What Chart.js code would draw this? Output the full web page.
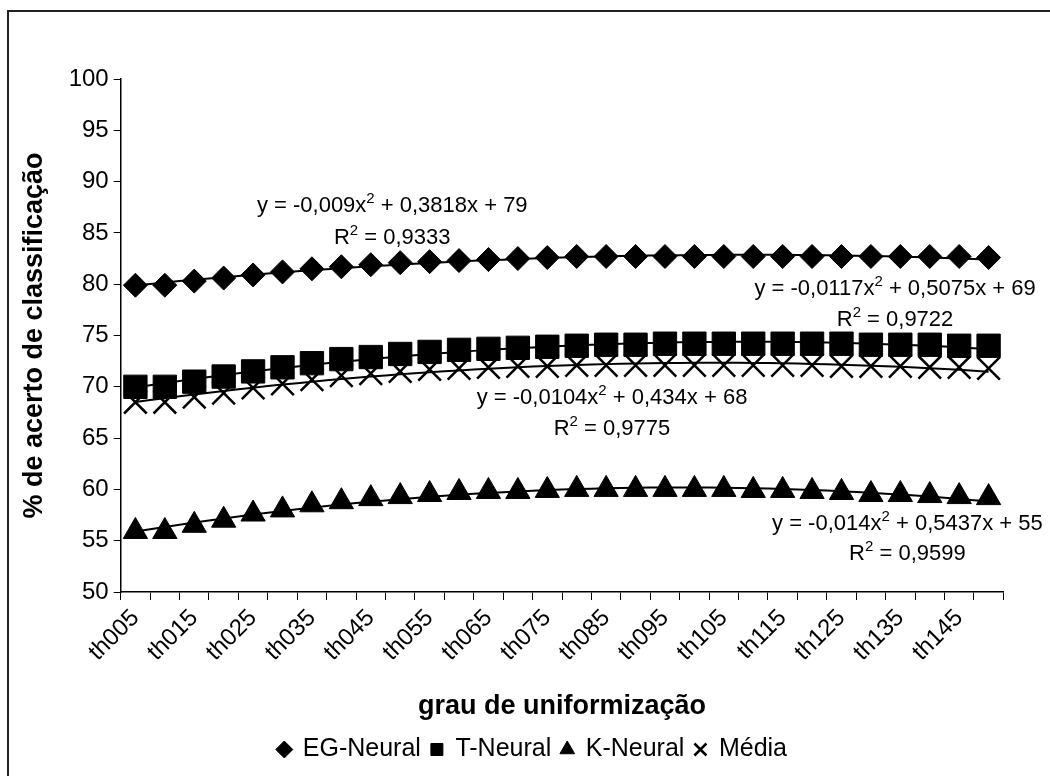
<!DOCTYPE html>
<html><head><meta charset="utf-8">
<script src="https://cdn.jsdelivr.net/npm/chart.js@4.4.1/dist/chart.umd.min.js"></script>
<style>
html,body{margin:0;padding:0;background:#fff;overflow:hidden}
#wrap{position:relative;width:1050px;height:776px}
#frame{position:absolute;left:7px;top:10px;width:1100px;height:800px;border:2px solid #222;box-sizing:border-box}
canvas{position:absolute;left:0;top:0}
</style></head><body>
<div id="wrap"><div id="frame"></div><canvas id="c" width="1050" height="776"></canvas></div>
<script>
const categories = ['th005','th010','th015','th020','th025','th030','th035','th040','th045','th050',
  'th055','th060','th065','th070','th075','th080','th085','th090','th095','th100',
  'th105','th110','th115','th120','th125','th130','th135','th140','th145','th150'];
const egNeural = [79.9, 79.9, 80.3, 80.6, 80.9, 81.2, 81.5, 81.7, 81.9, 82.1, 82.2, 82.3, 82.4, 82.5, 82.6,
  82.7, 82.7, 82.7, 82.7, 82.7, 82.7, 82.7, 82.7, 82.7, 82.7, 82.7, 82.7, 82.7, 82.7, 82.6];
const tNeural = [70.0, 70.0, 70.5, 71.0, 71.5, 71.9, 72.3, 72.7, 72.9, 73.2, 73.4, 73.6, 73.7, 73.8, 73.9,
  74.0, 74.1, 74.1, 74.2, 74.2, 74.2, 74.2, 74.2, 74.2, 74.2, 74.1, 74.1, 74.1, 74.0, 74.0];
const kNeural = [55.9, 55.9, 56.5, 57.0, 57.6, 58.0, 58.5, 58.8, 59.1, 59.3, 59.5, 59.7, 59.8, 59.8, 59.9,
  60.0, 60.0, 60.0, 60.0, 60.0, 60.0, 59.9, 59.9, 59.8, 59.7, 59.5, 59.5, 59.4, 59.3, 59.2];
const media = [68.5, 68.5, 69.0, 69.4, 69.9, 70.3, 70.7, 71.1, 71.3, 71.5, 71.7, 71.8, 71.9, 72.0, 72.0,
  72.1, 72.1, 72.1, 72.1, 72.1, 72.1, 72.1, 72.1, 72.1, 72.0, 72.0, 72.0, 71.9, 71.9, 71.8];
const seriesNames = ['EG-Neural', 'T-Neural', 'K-Neural', 'Média'];
const yTicks = [50, 55, 60, 65, 70, 75, 80, 85, 90, 95, 100];
const equations = [
  {eq: ['y = -0,009x', '2', ' + 0,3818x + 79'], r2: '0,9333'},
  {eq: ['y = -0,0117x', '2', ' + 0,5075x + 69'], r2: '0,9722'},
  {eq: ['y = -0,0104x', '2', ' + 0,434x + 68'], r2: '0,9775'},
  {eq: ['y = -0,014x', '2', ' + 0,5437x + 55'], r2: '0,9599'}
];
// label anchors (category index, value) for each equation block
const eqAnchors = [
  {i: 8.73, yEq: 87.04, yR2: 83.95},
  {i: 25.82, yEq: 78.9, yR2: 75.88},
  {i: 16.2, yEq: 68.33, yR2: 65.3},
  {i: 26.24, yEq: 56.02, yR2: 53.1}
];

const FONT = "'Liberation Sans', Arial, sans-serif";

function quadFit(ys) {
  let S = [0,0,0,0,0], T = [0,0,0];
  ys.forEach((y, k) => {
    const x = k + 1;
    let p = 1;
    for (let j = 0; j < 5; j++) { S[j] += p; p *= x; }
    T[0] += y; T[1] += y * x; T[2] += y * x * x;
  });
  const M = [[S[4], S[3], S[2], T[2]], [S[3], S[2], S[1], T[1]], [S[2], S[1], S[0], T[0]]];
  for (let c = 0; c < 3; c++) {
    for (let r = c + 1; r < 3; r++) {
      const f = M[r][c] / M[c][c];
      for (let k = c; k < 4; k++) M[r][k] -= f * M[c][k];
    }
  }
  const sol = [0,0,0];
  for (let r = 2; r >= 0; r--) {
    let s = M[r][3];
    for (let k = r + 1; k < 3; k++) s -= M[r][k] * sol[k];
    sol[r] = s / M[r][r];
  }
  return ys.map((_, k) => { const x = k + 1; return sol[0]*x*x + sol[1]*x + sol[2]; });
}

const styles = [
  {pointStyle: 'rectRot', pointRadius: 12, borderWidth: 1},
  {pointStyle: 'rect', pointRadius: 16.5, borderWidth: 1},
  {pointStyle: 'triangle', pointRadius: 14, borderWidth: 1},
  {pointStyle: 'crossRot', pointRadius: 16, borderWidth: 2.5}
];
const seriesData = [egNeural, tNeural, kNeural, media];

const datasets = [];
seriesData.forEach((d, k) => {
  datasets.push({
    label: seriesNames[k], data: d, showLine: false,
    pointStyle: styles[k].pointStyle, pointRadius: styles[k].pointRadius,
    pointHoverRadius: styles[k].pointRadius,
    backgroundColor: '#000', borderColor: '#000', borderWidth: styles[k].borderWidth,
    pointBorderWidth: styles[k].borderWidth, order: 2
  });
});
seriesData.forEach((d, k) => {
  datasets.push({
    label: 'trend' + k, isTrend: true, data: quadFit(d), showLine: true,
    pointRadius: 0, borderColor: '#000', borderWidth: 2, tension: 0.3, fill: false, order: 1
  });
});

const eqPlugin = {
  id: 'eqPlugin',
  afterDatasetsDraw(chart) {
    const ctx = chart.ctx, xs = chart.scales.x, ys = chart.scales.y;
    const big = '22px ' + FONT, small = '15px ' + FONT;
    ctx.save();
    ctx.fillStyle = '#000';
    ctx.textBaseline = 'alphabetic';
    ctx.textAlign = 'left';
    const drawParts = (parts, cx, by) => {
      ctx.font = big; const w0 = ctx.measureText(parts[0]).width;
      ctx.font = small; const w1 = ctx.measureText(parts[1]).width;
      ctx.font = big; const w2 = ctx.measureText(parts[2]).width;
      let x = cx - (w0 + w1 + w2) / 2;
      ctx.font = big; ctx.fillText(parts[0], x, by); x += w0;
      ctx.font = small; ctx.fillText(parts[1], x, by - 9); x += w1;
      ctx.font = big; ctx.fillText(parts[2], x, by);
    };
    equations.forEach((e, k) => {
      const a = eqAnchors[k];
      const cx = xs.getPixelForValue(0) + (xs.getPixelForValue(1) - xs.getPixelForValue(0)) * a.i;
      drawParts(e.eq, cx, ys.getPixelForValue(a.yEq));
      drawParts(['R', '2', ' = ' + e.r2], cx, ys.getPixelForValue(a.yR2));
    });
    ctx.restore();
  }
};

const legendShift = {
  id: 'legendShift',
  afterLayout(chart) {
    if (chart.legend) { chart.legend.left += 24; chart.legend.right += 24; }
  }
};

new Chart(document.getElementById('c'), {
  type: 'line',
  data: {labels: categories, datasets},
  plugins: [eqPlugin, legendShift],
  options: {
    responsive: false, animation: false,
    layout: {padding: {left: 14, right: 46.7, top: 79, bottom: 4}},
    plugins: {
      tooltip: {enabled: false},
      legend: {
        position: 'bottom',
        labels: {
          usePointStyle: true, boxWidth: 12, boxHeight: 12, padding: 10,
          color: '#000', font: {family: FONT, size: 25},
          filter: (item, data) => !data.datasets[item.datasetIndex].isTrend
        }
      }
    },
    scales: {
      x: {
        type: 'category', offset: true,
        grid: {display: true, drawOnChartArea: false, drawTicks: true, tickLength: 8, offset: true, color: '#000', lineWidth: 1},
        border: {display: true, color: '#000', width: 1.5},
        ticks: {autoSkip: false, minRotation: 45, maxRotation: 45, color: '#000', padding: 4,
          font: {family: FONT, size: 24},
          callback: (v, i) => (i % 2 === 0 ? categories[i] : '')},
        title: {display: true, text: 'grau de uniformização', color: '#000',
          font: {family: FONT, size: 27, weight: 'bold'}, padding: {top: 0, bottom: 4}},
        afterFit: (s) => { s.height = 135; }
      },
      y: {
        min: 50, max: 100,
        afterBuildTicks: (s) => { s.ticks = yTicks.map(v => ({value: v})); },
        grid: {display: true, drawOnChartArea: false, drawTicks: true, tickLength: 7, color: '#000', lineWidth: 1},
        border: {display: true, color: '#000', width: 1.5},
        ticks: {color: '#000', padding: 5, font: {family: FONT, size: 24}},
        title: {display: true, text: '% de acerto de classificação', color: '#000',
          font: {family: FONT, size: 27, weight: 'bold'}, padding: {top: 4, bottom: 0}},
        afterFit: (s) => { s.width = 106.7; }
      }
    }
  }
});
</script>
</body></html>
